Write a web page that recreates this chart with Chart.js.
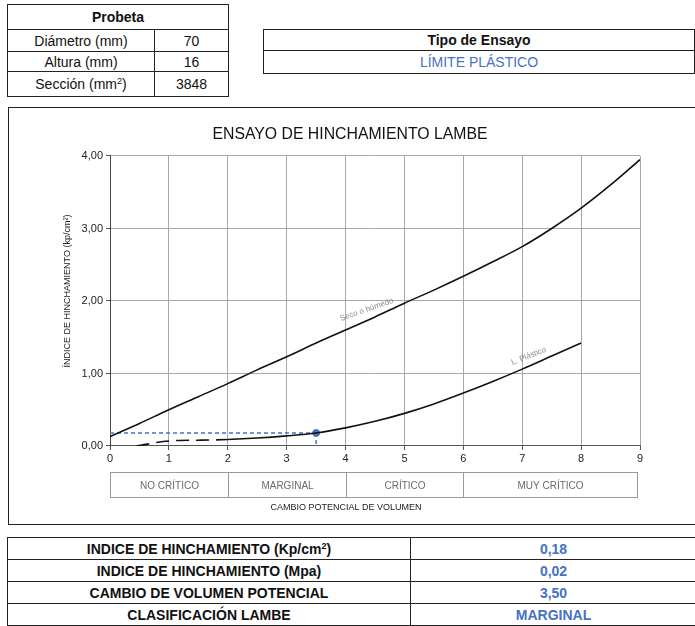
<!DOCTYPE html>
<html>
<head>
<meta charset="utf-8">
<script src="https://cdn.jsdelivr.net/npm/chart.js@4/dist/chart.umd.min.js"></script>
<style>
  html, body { margin: 0; padding: 0; background: #fff; width: 695px; height: 626px; overflow: hidden; position: relative; font-family: "Liberation Sans", Arial, sans-serif; }
  table { border-collapse: collapse; position: absolute; }
  td { border: 1px solid #222; text-align: center; padding: 0; color: #111; }
  #probeta { left: 7px; top: 4px; width: 222px; font-size: 14px; }
  #probeta td.l { width: 146px; }
  #tipo { left: 263px; top: 29px; width: 432px; font-size: 14px; }
  .blue { color: #4472C4 !important; }
  #frame { position: absolute; left: 8px; top: 107px; width: 720px; height: 418px; border: 1px solid #222; box-sizing: border-box; }
  #c { position: absolute; left: 8px; top: 108px; }
  #resumen { left: 7px; top: 537px; width: 690px; font-family: "Liberation Sans Narrow", "Arial Narrow", sans-serif; font-weight: bold; font-size: 14px; }
  #resumen td.l { width: 402px; }
  sup { font-size: 0.65em; line-height: 0; vertical-align: 0.6em; }
</style>
</head>
<body>
<table id="probeta">
  <tr style="height:25px"><td colspan="2"><b>Probeta</b></td></tr>
  <tr style="height:22px"><td class="l">Diámetro (mm)</td><td>70</td></tr>
  <tr style="height:20px"><td class="l">Altura (mm)</td><td>16</td></tr>
  <tr style="height:25px"><td class="l">Sección (mm<sup>2</sup>)</td><td>3848</td></tr>
</table>
<table id="tipo">
  <tr style="height:21px"><td><b>Tipo de Ensayo</b></td></tr>
  <tr style="height:23px"><td class="blue">LÍMITE PLÁSTICO</td></tr>
</table>
<div id="frame"></div>
<canvas id="c" width="687" height="418"></canvas>
<table id="resumen">
  <tr style="height:22px"><td class="l">INDICE DE HINCHAMIENTO (Kp/cm<sup>2</sup>)</td><td class="blue">0,18</td></tr>
  <tr style="height:22px"><td class="l">INDICE DE HINCHAMIENTO (Mpa)</td><td class="blue">0,02</td></tr>
  <tr style="height:22px"><td class="l">CAMBIO DE VOLUMEN POTENCIAL</td><td class="blue">3,50</td></tr>
  <tr style="height:22px"><td class="l">CLASIFICACIÓN LAMBE</td><td class="blue">MARGINAL</td></tr>
</table>
<script>
// ---- data ----
const secoX = [0, 0.5, 1, 1.5, 2, 2.5, 3, 3.5, 4, 4.5, 5, 5.5, 6, 6.5, 7, 7.5, 8, 8.5, 9];
const secoY = [0.13, 0.31, 0.50, 0.68, 0.86, 1.05, 1.23, 1.42, 1.60, 1.78, 1.97, 2.15, 2.34, 2.54, 2.75, 3.00, 3.28, 3.60, 3.95];
const plasticoX = [0.45, 1, 1.5, 2, 2.5, 3, 3.5, 4, 4.5, 5, 5.5, 6, 6.5, 7, 7.5, 8];
const plasticoY = [0.00, 0.07, 0.08, 0.09, 0.11, 0.14, 0.18, 0.25, 0.34, 0.45, 0.58, 0.73, 0.89, 1.06, 1.24, 1.42];
const plasticoDashHasta = 2;
const resultadoX = 3.5;
const resultadoY = 0.18;
const clasesLimites = [0, 2, 4, 6, 8.95];
const clasesNombres = ['NO CRÍTICO', 'MARGINAL', 'CRÍTICO', 'MUY CRÍTICO'];
const etiquetas = [
  { text: 'Seco o húmedo', x: 4.36, y: 1.88, angle: -19.5 },
  { text: 'L. Plástico', x: 7.11, y: 1.24, angle: -22 }
];
const tituloGrafico = 'ENSAYO DE HINCHAMIENTO LAMBE';
const tituloY = 'ÍNDICE DE HINCHAMIENTO (kp/cm²)';
const tituloX = 'CAMBIO POTENCIAL DE VOLUMEN';

const NARROW = '"Liberation Sans Narrow", "Arial Narrow", sans-serif';
const BLUE = '#4472C4';

const toPts = (xs, ys) => xs.map((x, i) => ({ x: x, y: ys[i] }));

const extras = {
  id: 'extras',
  afterDraw(chart) {
    const ctx = chart.ctx;
    const xs = chart.scales.x, ys = chart.scales.y;
    ctx.save();
    // curve labels
    ctx.fillStyle = '#8a8a8a';
    ctx.font = '8px ' + NARROW;
    ctx.textAlign = 'center';
    ctx.textBaseline = 'middle';
    etiquetas.forEach(e => {
      ctx.save();
      ctx.translate(xs.getPixelForValue(e.x), ys.getPixelForValue(e.y));
      ctx.rotate(e.angle * Math.PI / 180);
      ctx.fillText(e.text, 0, 0);
      ctx.restore();
    });
    // y title
    ctx.save();
    ctx.fillStyle = '#222';
    ctx.font = '9px ' + NARROW;
    ctx.translate(60, (chart.chartArea.top + chart.chartArea.bottom) / 2 - 10);
    ctx.rotate(-Math.PI / 2);
    ctx.fillText(tituloY, 0, 0);
    ctx.restore();
    // classification band
    const top = chart.chartArea.bottom + 26, h = 25;
    ctx.strokeStyle = '#9a9a9a';
    ctx.lineWidth = 1;
    ctx.font = '10px ' + NARROW;
    ctx.fillStyle = '#6a6a6a';
    for (let i = 0; i < clasesNombres.length; i++) {
      const x0 = Math.round(xs.getPixelForValue(clasesLimites[i])) + 0.5;
      const x1 = Math.round(xs.getPixelForValue(clasesLimites[i + 1])) + 0.5;
      ctx.strokeRect(x0, top + 0.5, x1 - x0, h);
      ctx.fillText(clasesNombres[i], (x0 + x1) / 2, top + h / 2 + 2);
    }
    // x title
    ctx.fillStyle = '#222';
    ctx.font = '9px ' + NARROW;
    ctx.fillText(tituloX, 338, top + h + 11);
    ctx.restore();
  }
};

new Chart(document.getElementById('c'), {
  type: 'line',
  data: {
    datasets: [
      {
        data: toPts(secoX, secoY),
        borderColor: '#111', borderWidth: 1.6, pointRadius: 0,
        cubicInterpolationMode: 'monotone', fill: false
      },
      {
        data: toPts(plasticoX, plasticoY),
        borderColor: '#111', borderWidth: 1.6, pointRadius: 0,
        cubicInterpolationMode: 'monotone', fill: false,
        segment: { borderDash: c => c.p1.parsed.x <= plasticoDashHasta ? [13, 7] : [] }
      },
      {
        data: [{ x: 0, y: resultadoY }, { x: resultadoX, y: resultadoY }],
        borderColor: BLUE, borderWidth: 1.5, borderDash: [4, 3], pointRadius: 0, fill: false
      },
      {
        data: [{ x: resultadoX, y: resultadoY }, { x: resultadoX, y: 0 }],
        borderColor: BLUE, borderWidth: 1.5, borderDash: [4, 3], pointRadius: 0, fill: false
      },
      {
        data: [{ x: resultadoX, y: resultadoY }],
        showLine: false, pointRadius: 3.5, pointBackgroundColor: BLUE, pointBorderColor: BLUE
      }
    ]
  },
  options: {
    responsive: false,
    animation: false,
    layout: { padding: { left: 52, right: 55, top: 0, bottom: 10 } },
    plugins: {
      legend: { display: false },
      tooltip: { enabled: false },
      title: {
        display: true, text: tituloGrafico, color: '#111',
        font: { family: '"Liberation Sans", Arial, sans-serif', size: 15.8, weight: 'normal', lineHeight: 1.2 },
        padding: { top: 17, bottom: 12 }
      }
    },
    scales: {
      x: {
        type: 'linear', min: 0, max: 9,
        ticks: { stepSize: 1, color: '#222', font: { family: NARROW, size: 11 }, padding: 2, maxRotation: 0 },
        grid: { color: '#a8a8a8', tickColor: '#555', tickLength: 4 },
        border: { color: '#555' },
        afterFit: s => { s.height = 70; }
      },
      y: {
        type: 'linear', min: 0, max: 4,
        ticks: { stepSize: 1, color: '#222', font: { family: NARROW, size: 11 }, padding: 3,
                 callback: v => v.toFixed(2).replace('.', ',') },
        grid: { color: '#a8a8a8', tickColor: '#555', tickLength: 4 },
        border: { color: '#444' },
        afterFit: s => { s.width = 50; }
      }
    }
  },
  plugins: [extras]
});
</script>
</body>
</html>
